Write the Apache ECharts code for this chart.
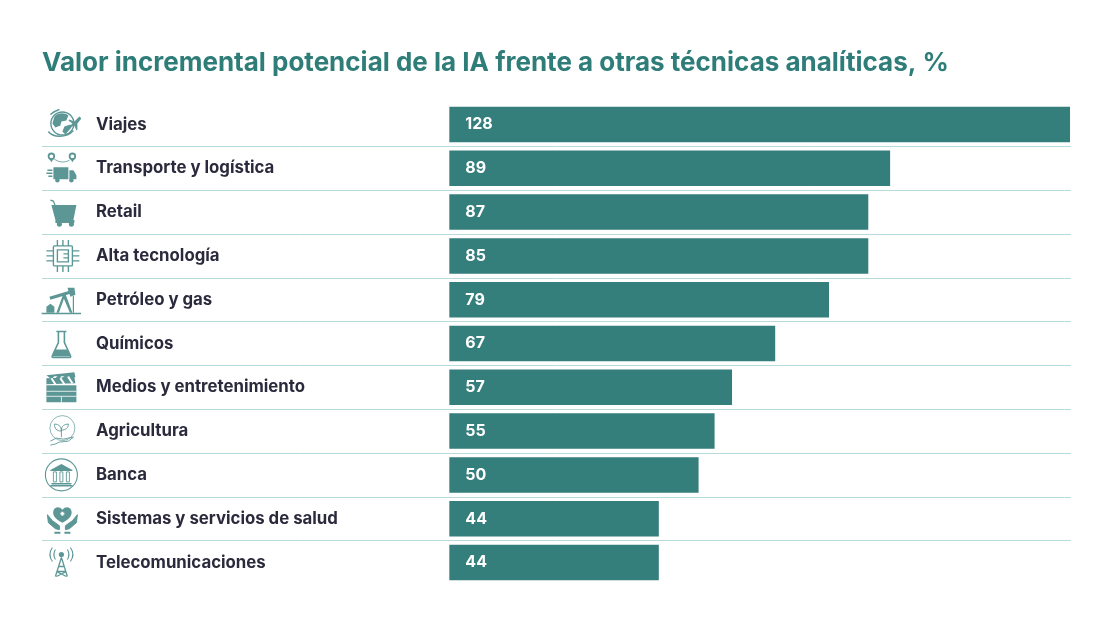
<!DOCTYPE html>
<html>
<head>
<meta charset="utf-8">
<title>Valor incremental de la IA</title>
<script src="https://cdn.jsdelivr.net/npm/echarts@6/dist/echarts.min.js"></script>
<style>
  html, body { margin: 0; padding: 0; background: #fff; }
  #main { width: 1100px; height: 619px; }
</style>
</head>
<body>
<div id="main"></div>
<script>
var titleText = 'Valor incremental potencial de la IA frente a otras técnicas analíticas, %';
var categories = ['Viajes', 'Transporte y logística', 'Retail', 'Alta tecnología', 'Petróleo y gas',
    'Químicos', 'Medios y entretenimiento', 'Agricultura', 'Banca', 'Sistemas y servicios de salud',
    'Telecomunicaciones'];
// the numbers printed on the bars
var printedValues = [128, 89, 87, 85, 79, 67, 57, 55, 50, 44, 44];
// the bars in the original are not quite proportional to their numbers, so lengths are read off the bars
var barLengths = [128, 90.9, 86.4, 86.4, 78.3, 67.2, 58.3, 54.7, 51.4, 43.2, 43.2];

var TEAL = '#347e7c';
var INK = '#2a2a3c';
var RULE = '#b7dada';
var FONT = 'Inter';

// icons, drawn in a 40x40 box centred on the row
var iconShapes = [
    // globe and plane
    '<circle cx="21" cy="19" r="11.500" fill="none" stroke="#347e7c" stroke-width="1.4"/>' +
    '<path d="M13 12c4-4 10-4 14-1l-2 5-5 1-1 4-5 2-3-4zM23 22l6-2 1 3-6 7-3-3z" fill="#347e7c"/>' +
    '<path d="M7 27c4 6 18 7 25-1M9 10c3-3 6-4 9-5" fill="none" stroke="#347e7c" stroke-width="1.400"/>' +
    '<path d="M38 12l-5 5-5-2-1 1 4 3-3 3 1 1 4-2 2 5 1-1 0-6 4-5z" fill="#347e7c"/>',
    // pins and truck
    '<circle cx="10" cy="8" r="2.800" fill="none" stroke="#347e7c" stroke-width="1.800"/><path d="M7.500 10l2.500 4 2.500-4z" fill="#347e7c"/>' +
    '<circle cx="31" cy="8" r="2.800" fill="none" stroke="#347e7c" stroke-width="1.800"/><path d="M28.500 10l2.500 4 2.500-4z" fill="#347e7c"/>' +
    '<path d="M13 11q8 5 15 1" fill="none" stroke="#347e7c" stroke-width=".8"/>' +
    '<path d="M12 19h15v12H12zM28 22h4l3 5v4h-7z" fill="#347e7c"/>' +
    '<circle cx="16" cy="32" r="2.200" fill="#347e7c"/><circle cx="30" cy="32" r="2.200" fill="#347e7c"/>' +
    '<path d="M6 22h5M5 25h6M7 28h4" stroke="#347e7c" stroke-width="1.400"/>',
    // cart
    '<path d="M9 8l3 1 2 5" fill="none" stroke="#347e7c" stroke-width="1.200"/>' +
    '<path d="M10 13h25l-3 15H14zM14 28h19v3H14z" fill="#347e7c"/>' +
    '<circle cx="18" cy="32" r="2.600" fill="#347e7c"/><circle cx="30" cy="32" r="2.600" fill="#347e7c"/>',
    // chip
    '<rect x="12" y="10" width="19" height="20" rx="1" fill="none" stroke="#347e7c" stroke-width="1.400"/>' +
    '<path d="M16 14h11v12H16zM22 18h5M22 22h5" fill="none" stroke="#347e7c" stroke-width="1.400"/>' +
    '<path d="M16 4v6M21.500 4v6M27 4v6M16 30v6M21.500 30v6M27 30v6M5 15h7M5 20h7M5 25h7M31 15h7M31 20h7M31 25h7" stroke="#347e7c" stroke-width="1.400"/>',
    // pumpjack
    '<path d="M0 33h40v1.500H0z" fill="#347e7c"/>' +
    '<path d="M8 17l20-6 1 3-20 6z" fill="#347e7c"/><path d="M26 8h7l1 7-5 2z" fill="#347e7c"/>' +
    '<path d="M22 14l-7 19h2.500l5-14 6 14H31l-7-19z" fill="#347e7c"/>' +
    '<path d="M5 33v-6l4-3 4 3v6z" fill="#347e7c"/><path d="M32 16v17" stroke="#347e7c" stroke-width="1.200"/>',
    // flask
    '<path d="M15 8h10M17 8v11l-6 13q-1 2 1 2h16q2 0 1-2l-6-13V8" fill="none" stroke="#347e7c" stroke-width="1.600"/>' +
    '<path d="M14 26h12l3 7H11z" fill="#347e7c"/>',
    // clapperboard
    '<path d="M5 18h30v17H5z" fill="#347e7c"/><path d="M5 24h30M5 29h30M20 29v6" stroke="#fff" stroke-width=".8"/>' +
    '<path d="M5 8l28-3 1 5-8 1 3-1-2-1-3 2-4 0 3-2-3 0-3 3-4 0 3-3-3 0-3 3zM5 11l28-1 1 6-29 1z" fill="#347e7c"/>' +
    '<path d="M10 11l4 6M19 11l4 6M27 10l4 6" stroke="#fff" stroke-width="2"/>',
    // plant in a hand
    '<circle cx="21" cy="17" r="12.500" fill="none" stroke="#347e7c" stroke-width=".7"/>' +
    '<path d="M20 26v-9M20 20c-5 0-7-3-7-7 5 0 7 3 7 7zM20 19c4 0 7-2 7-6-4 0-7 2-7 6z" fill="none" stroke="#347e7c" stroke-width=".9"/>' +
    '<path d="M9 34q6-1 9-3l9-1 5-4-10 2-7-1-6 3" fill="none" stroke="#347e7c" stroke-width=".9"/>',
    // bank in a circle
    '<circle cx="20" cy="20" r="16" fill="none" stroke="#347e7c" stroke-width="1.100"/>' +
    '<path d="M20 9l11 6v1H9v-1zM10 28h20v1.500H10zM9 30h22v1.500H9z" fill="#347e7c"/>' +
    '<path d="M12 17h3v10h-3zM18.500 17h3v10h-3zM25 17h3v10h-3z" fill="none" stroke="#347e7c" stroke-width=".9"/>',
    // heart and hands
    '<path d="M21 24c-8-4-10-8-9-12 1-4 6-5 9-1 3-4 8-3 9 1 1 4-1 8-9 12z" fill="#347e7c"/>' +
    '<path d="M19 15h4M21 13v4" stroke="#fff" stroke-width="1.800"/>' +
    '<path d="M6 16l1 8 7 6 4 1v-4l-7-5zM36 16l-1 8-7 6-4 1v-4l7-5z" fill="#347e7c" stroke="#347e7c" stroke-width="1"/>' +
    '<path d="M13 34h6M23 34h6" stroke="#347e7c" stroke-width="2"/>',
    // antenna tower
    '<path d="M20 15l-6 19M20 15l6 19M17 24h6M16 29h8M15 34l10-5M25 34l-10-5" fill="none" stroke="#347e7c" stroke-width="1.300"/>' +
    '<circle cx="20" cy="12" r="2.600" fill="#347e7c"/>' +
    '<path d="M14 7q-3 5 0 10M11 5q-5 7 0 14M26 7q3 5 0 10M29 5q5 7 0 14" fill="none" stroke="#347e7c" stroke-width="1.100"/>'
];

function iconImage(shape) {
    var svg = '<svg xmlns="http://www.w3.org/2000/svg" width="120" height="120" viewBox="0 0 40 40">' + shape + '</svg>';
    return 'image://data:image/svg+xml;charset=utf-8,' + encodeURIComponent(svg);
}

var chart = echarts.init(document.getElementById('main'));

var option = {
    animation: false,
    backgroundColor: '#fff',
    title: {
        text: titleText,
        left: 42,
        top: 50,
        padding: 0,
        textStyle: { color: '#2f7d79', fontFamily: FONT, fontWeight: 700, fontSize: 26 }
    },
    grid: { left: 42, top: 102.6, width: 1029, height: 481.8 },
    xAxis: { type: 'value', min: -84, max: 128.2, show: false },
    yAxis: {
        type: 'category',
        data: categories,
        inverse: true,
        axisLine: { show: false },
        axisTick: { show: false },
        splitLine: { show: true, showMinLine: false, showMaxLine: false, lineStyle: { color: RULE, width: 1 } },
        axisLabel: {
            inside: true,
            margin: 54,
            color: INK,
            fontFamily: FONT,
            fontWeight: 700,
            fontSize: 16.8
        }
    },
    series: [
        {
            type: 'bar',
            barWidth: 35.5,
            itemStyle: { color: TEAL },
            label: {
                show: true,
                position: 'insideLeft',
                distance: 16,
                color: '#fff',
                fontFamily: FONT,
                fontWeight: 700,
                fontSize: 16,
                formatter: function (p) { return printedValues[p.dataIndex]; }
            },
            data: barLengths
        },
        {
            type: 'scatter',
            silent: true,
            symbolSize: 40,
            data: categories.map(function (name, i) {
                return { value: [-80, name], symbol: iconImage(iconShapes[i]) };
            })
        }
    ]
};
chart.setOption(option);
</script>
</body>
</html>
